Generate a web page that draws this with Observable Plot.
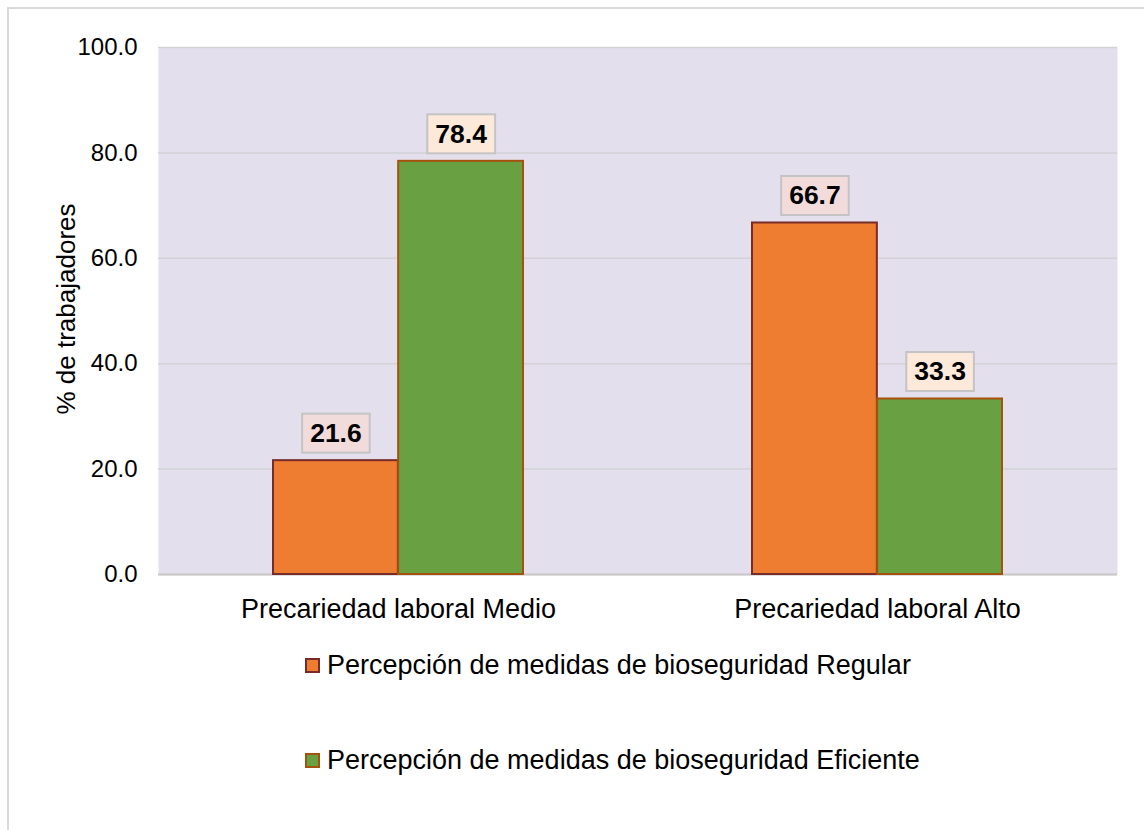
<!DOCTYPE html>
<html>
<head>
<meta charset="utf-8">
<script src="https://cdn.jsdelivr.net/npm/d3@7"></script>
<script src="https://cdn.jsdelivr.net/npm/@observablehq/plot@0.6"></script>
<style>
  html, body { margin: 0; padding: 0; background: #fff; overflow: hidden; }
  body { width: 1144px; height: 830px; position: relative; font-family: "Liberation Sans", Arial, sans-serif; color: #000; }
  #border { position: absolute; left: 7px; top: 7px; width: 1200px; height: 900px; border-left: 2px solid #d9d9d9; border-top: 2px solid #d9d9d9; box-sizing: border-box; }
  #chart { position: absolute; left: 0; top: 0; }
  #legend { position: absolute; left: 305px; top: 0; }
  .item { position: absolute; left: 0; display: flex; align-items: center; white-space: nowrap; font-size: 27px; }
  .sw { width: 11px; height: 11px; border: 2px solid; margin-right: 7px; }
</style>
</head>
<body>
<div id="border"></div>
<div id="chart"></div>
<div id="legend"></div>
<script>
// ---- data ----
const categories = ["Precariedad laboral Medio", "Precariedad laboral Alto"];
const series = ["Percepción de medidas de bioseguridad Regular", "Percepción de medidas de bioseguridad Eficiente"];
const regular = [21.6, 66.7];
const eficiente = [78.4, 33.3];
const yTicks = [0, 20, 40, 60, 80, 100];
const yLabel = "% de trabajadores";

// ---- styles ----
const fills = ["#ee7d31", "#69a142"];
const strokes = ["#772c2a", "#a5520f"];
const boxFills = ["#f2dcdb", "#fde9d9"];

const W = 1144, H = 640, mL = 158, mR = 27, mT = 47, mB = 66;
const pi = 0.478, po = 0.239;
const bw = (W - mL - mR) / (categories.length - pi + 2 * po) * (1 - pi);

const regRows = categories.map((c, i) => ({cat: c, series: series[0], value: regular[i]}));
const efiRows = categories.map((c, i) => ({cat: c, series: series[1], value: eficiente[i]}));

const plot = Plot.plot({
  width: W, height: H,
  marginLeft: mL, marginRight: mR, marginTop: mT, marginBottom: mB,
  style: {fontFamily: "'Liberation Sans', Arial, sans-serif", color: "#000", background: "transparent", overflow: "visible"},
  x: {type: "band", domain: categories, paddingInner: pi, paddingOuter: po, align: 0.5},
  y: {domain: [0, 100]},
  marks: [
    Plot.frame({fill: "#e4dfec", stroke: null}),
    Plot.gridY(yTicks, {stroke: "#d2d2d6", strokeOpacity: 1, strokeWidth: 1.5}),
    Plot.ruleY([0], {stroke: "#c8c8c8", strokeWidth: 2}),
    Plot.barY(regRows, {x: "cat", y: "value", fill: fills[0], stroke: strokes[0], strokeWidth: 2, insetRight: bw / 2}),
    Plot.barY(efiRows, {x: "cat", y: "value", fill: fills[1], stroke: strokes[1], strokeWidth: 2, insetLeft: bw / 2}),
    Plot.text(regRows, {x: "cat", y: "value", text: d => d.value.toFixed(1), dx: -bw / 4, dy: -27, fontWeight: "bold", fontSize: 26.5, fill: "#000"}),
    Plot.text(efiRows, {x: "cat", y: "value", text: d => d.value.toFixed(1), dx: bw / 4, dy: -27, fontWeight: "bold", fontSize: 26.5, fill: "#000"}),
    Plot.axisY(yTicks, {tickSize: 0, tickPadding: 21, tickFormat: d => d.toFixed(1), fontSize: 24, label: null}),
    Plot.axisX({tickSize: 0, tickPadding: 24, fontSize: 27, label: null}),
    Plot.text([yLabel], {frameAnchor: "left", textAnchor: "middle", dx: -92, dy: -2, rotate: -90, fontSize: 26, fill: "#000"})
  ]
});
document.getElementById("chart").appendChild(plot);

// label boxes (first two plain text marks are the value labels)
const textGroups = plot.querySelectorAll('g[aria-label="text"]');
[0, 1].forEach(k => {
  const g = textGroups[k];
  if (!g) return;
  g.querySelectorAll("text").forEach(t => {
    const b = t.getBBox();
    const r = document.createElementNS("http://www.w3.org/2000/svg", "rect");
    const px = 8, py = 4.5;
    r.setAttribute("x", b.x - px);
    r.setAttribute("y", b.y - py);
    r.setAttribute("width", b.width + 2 * px);
    r.setAttribute("height", b.height + 2 * py);
    r.setAttribute("fill", boxFills[k]);
    r.setAttribute("stroke", "#c4c4c4");
    r.setAttribute("stroke-width", "2");
    if (t.getAttribute("transform")) r.setAttribute("transform", t.getAttribute("transform"));
    g.insertBefore(r, t);
  });
});

// legend
const legend = document.getElementById("legend");
const tops = [665, 760];
series.forEach((s, i) => {
  const it = document.createElement("div");
  it.className = "item";
  it.style.top = (tops[i] - 16) + "px";
  it.style.height = "32px";
  const sw = document.createElement("div");
  sw.className = "sw";
  sw.style.background = fills[i];
  sw.style.borderColor = strokes[i];
  const tx = document.createElement("span");
  tx.textContent = s;
  it.appendChild(sw);
  it.appendChild(tx);
  legend.appendChild(it);
});
</script>
</body>
</html>
